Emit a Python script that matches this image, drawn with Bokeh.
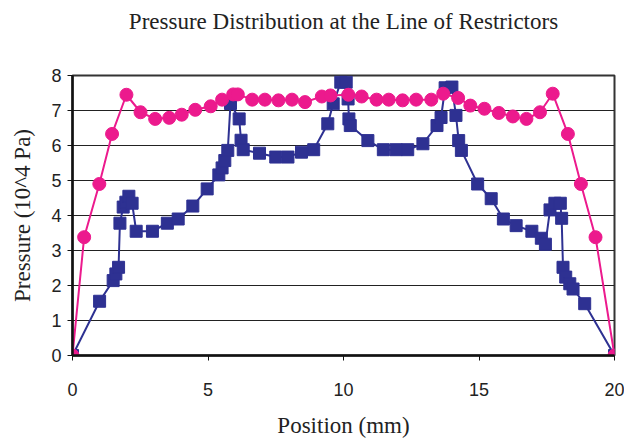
from bokeh.plotting import figure
from bokeh.models import Range1d, FixedTicker, LinearAxis
from bokeh.embed import file_html
from bokeh.resources import INLINE

# Pink series (circles)
pink_x = [0.0, 0.43, 0.99, 1.46, 1.99, 2.51, 3.05, 3.57, 4.03, 4.53, 5.1, 5.52, 5.93, 6.1,
          6.63, 7.1, 7.6, 8.1, 8.58, 9.2, 9.52, 10.18, 10.67, 11.22, 11.67, 12.18, 12.68,
          13.24, 13.68, 14.23, 14.68, 15.2, 15.73, 16.25, 16.75, 17.25, 17.72, 18.28,
          18.76, 19.3, 20.0]
pink_y = [0.0, 3.38, 4.9, 6.33, 7.45, 6.95, 6.76, 6.79, 6.88, 7.02, 7.12, 7.31, 7.46, 7.46,
          7.31, 7.31, 7.29, 7.31, 7.24, 7.4, 7.43, 7.45, 7.4, 7.31, 7.31, 7.29, 7.31,
          7.31, 7.48, 7.36, 7.14, 7.05, 6.93, 6.83, 6.76, 6.95, 7.48, 6.33,
          4.9, 3.38, 0.0]

# Blue series (squares)
blue_x = [0.0, 1.0, 1.5, 1.6, 1.7, 1.75, 1.87, 1.97, 2.08, 2.2, 2.35, 2.95, 3.5, 3.9,
          4.44, 4.97, 5.4, 5.52, 5.62, 5.73, 5.83, 6.15, 6.22, 6.3, 6.9, 7.5, 7.95, 8.45,
          8.9, 9.42, 9.62, 9.9, 10.1, 10.17, 10.2, 10.25, 10.9, 11.47, 11.94, 12.37,
          12.93, 13.45, 13.6, 13.75, 14.0, 14.15, 14.25, 14.35, 14.95, 15.45, 15.9,
          16.37, 16.95, 17.3, 17.45, 17.62, 17.8, 18.0, 18.05, 18.1, 18.2, 18.35,
          18.47, 18.9, 20.0]
blue_y = [0.0, 1.55, 2.14, 2.33, 2.52, 3.78, 4.24, 4.38, 4.55, 4.35, 3.55, 3.55, 3.78, 3.9,
          4.27, 4.76, 5.16, 5.36, 5.57, 5.86, 7.2, 6.76, 6.15, 5.88, 5.78, 5.67, 5.67, 5.81,
          5.88, 6.62, 7.19, 7.81, 7.81, 7.33, 6.76, 6.57, 6.14, 5.88, 5.88, 5.88,
          6.05, 6.57, 6.8, 7.65, 7.67, 6.86, 6.14, 5.86, 4.9, 4.48, 3.9,
          3.71, 3.55, 3.35, 3.18, 4.16, 4.35, 4.35, 3.92, 2.52, 2.24, 2.05,
          1.9, 1.48, 0.0]

x_ticks = [0, 5, 10, 15, 20]
y_ticks = [0, 1, 2, 3, 4, 5, 6, 7, 8]
title_text = "Pressure Distribution at the Line of Restrictors"

PINK = "#EC1A8D"
BLUE = "#2E3192"
TEXT = "#222222"
SERIF = "Liberation Serif"

p = figure(width=624, height=442, output_backend="svg", toolbar_location=None,
           x_range=Range1d(0, 20), y_range=Range1d(0, 8),
           min_border_left=72, min_border_right=10, min_border_top=75, min_border_bottom=87)

p.background_fill_color = "white"
p.border_fill_color = "white"
p.outline_line_color = "#333333"
p.outline_line_width = 2

p.line(blue_x, blue_y, line_color=BLUE, line_width=2)
p.scatter(blue_x, blue_y, marker="square", size=12, fill_color=BLUE, line_color=BLUE, line_width=1)
p.line(pink_x, pink_y, line_color=PINK, line_width=2)
p.scatter(pink_x, pink_y, marker="circle", size=13, fill_color=PINK, line_color=PINK)

p.xgrid.grid_line_color = None
p.ygrid.grid_line_color = "#222222"
p.ygrid.grid_line_width = 1
p.xaxis.ticker = FixedTicker(ticks=x_ticks)
p.yaxis.ticker = FixedTicker(ticks=y_ticks)

for ax in (p.xaxis[0], p.yaxis[0]):
    ax.axis_line_color = "#111111"
    ax.axis_line_width = 2.5
    ax.major_tick_line_color = "#111111"
    ax.major_tick_in = 0
    ax.major_tick_out = 5
    ax.minor_tick_line_color = None
    ax.major_label_text_font = "Liberation Sans"
    ax.major_label_text_font_size = "18px"
    ax.major_label_text_color = TEXT
    ax.axis_label_text_font = SERIF
    ax.axis_label_text_font_size = "23px"
    ax.axis_label_text_font_style = "normal"
    ax.axis_label_text_color = TEXT

p.xaxis.axis_label = "Position (mm)"
p.xaxis.major_label_standoff = 22
p.xaxis.axis_label_standoff = 14
p.yaxis.axis_label = "Pressure (10^4 Pa)"
p.yaxis.major_label_standoff = 6
p.yaxis.axis_label_standoff = 13

# Title drawn as the label of a bare axis above the frame
top = LinearAxis(axis_label=title_text, ticker=FixedTicker(ticks=[]))
top.axis_line_color = None
top.major_tick_line_color = None
top.minor_tick_line_color = None
top.major_tick_out = 0
top.major_tick_in = 0
top.major_label_standoff = 0
top.major_label_text_font_size = "0px"
top.axis_label_standoff = 42
top.axis_label_text_font = SERIF
top.axis_label_text_font_size = "23px"
top.axis_label_text_font_style = "normal"
top.axis_label_text_color = TEXT
p.add_layout(top, "above")

open("out.html", "w").write(file_html(p, INLINE))
